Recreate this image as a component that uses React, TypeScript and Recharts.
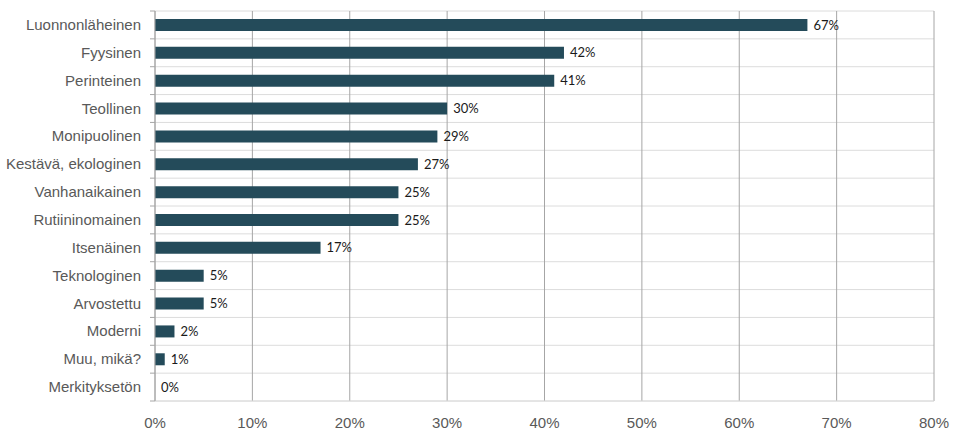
import { BarChart, Bar, XAxis, YAxis, CartesianGrid, LabelList } from 'recharts';

const categories = [
  'Luonnonläheinen',
  'Fyysinen',
  'Perinteinen',
  'Teollinen',
  'Monipuolinen',
  'Kestävä, ekologinen',
  'Vanhanaikainen',
  'Rutiininomainen',
  'Itsenäinen',
  'Teknologinen',
  'Arvostettu',
  'Moderni',
  'Muu, mikä?',
  'Merkityksetön',
];
const shares = [67, 42, 41, 30, 29, 27, 25, 25, 17, 5, 5, 2, 1, 0];
const xTicks = [0, 10, 20, 30, 40, 50, 60, 70, 80];

const data = categories.map((name, i) => ({ name, value: shares[i] }));

const BAR = '#244b5a';
const GRID_DARK = '#a6a6a6';
const GRID_LIGHT = '#dcdcdc';
const TEXT = '#595959';

// category label plus a small tick at the band boundary (Excel style)
function CategoryTick(props: any) {
  const { x, y, payload, index, visibleTicksCount } = props;
  const half = payload?.offset || 13.93;
  const isLast = index === visibleTicksCount - 1;
  return (
    <g>
      <text
        x={x}
        y={y}
        dy={5}
        textAnchor="end"
        fill={TEXT}
        fontSize={15}
        fontFamily="Liberation Sans, Arial, sans-serif"
      >
        {payload.value}
      </text>
      <line x1={x + 9} x2={x + 14} y1={y - half} y2={y - half} stroke={GRID_DARK} />
      {isLast && <line x1={x + 9} x2={x + 14} y1={y + half} y2={y + half} stroke={GRID_DARK} />}
    </g>
  );
}

function ValueLabel(props: any) {
  const { x, y, width, height, value } = props;
  return (
    <text
      x={Number(x) + Number(width || 0) + 6}
      y={Number(y) + Number(height) / 2}
      dy={4.5}
      fill="#1a1a1a"
      fontSize={13}
      fontFamily="Lato, sans-serif"
    >
      {`${value}%`}
    </text>
  );
}

export default function App() {
  return (
    <div style={{ width: 961, height: 434, background: '#fff' }}>
      <style>{'body{margin:0}'}</style>
      <BarChart
        width={961}
        height={434}
        data={data}
        layout="vertical"
        margin={{ top: 11, right: 27, left: 0, bottom: 0 }}
      >
        <CartesianGrid
          vertical={false}
          stroke={GRID_LIGHT}
          horizontalCoordinatesGenerator={({ offset }: any) =>
            categories.map((_, i) => offset.top + (i * offset.height) / categories.length).concat(offset.top + offset.height)
          }
        />
        <CartesianGrid horizontal={false} stroke={GRID_DARK} />
        <XAxis
          type="number"
          domain={[0, 80]}
          ticks={xTicks}
          tickFormatter={(v) => `${v}%`}
          axisLine={{ stroke: GRID_LIGHT }}
          tickLine={false}
          tickMargin={10}
          height={33}
          tick={{ fill: TEXT, fontSize: 15, fontFamily: 'Liberation Sans, Arial, sans-serif' }}
        />
        <XAxis
          xAxisId="top"
          orientation="top"
          type="number"
          domain={[0, 80]}
          ticks={xTicks}
          height={0}
          tickSize={4}
          axisLine={false}
          tickLine={{ stroke: GRID_DARK }}
          tick={false}
        />
        <YAxis
          type="category"
          dataKey="name"
          width={155}
          tickSize={5}
          tickMargin={9}
          tickLine={false}
          axisLine={{ stroke: GRID_DARK }}
          tick={<CategoryTick />}
          interval={0}
        />
        <Bar dataKey="value" fill={BAR} barSize={12} minPointSize={0.01} isAnimationActive={false}>
          <LabelList dataKey="value" content={<ValueLabel />} />
        </Bar>
      </BarChart>
    </div>
  );
}
